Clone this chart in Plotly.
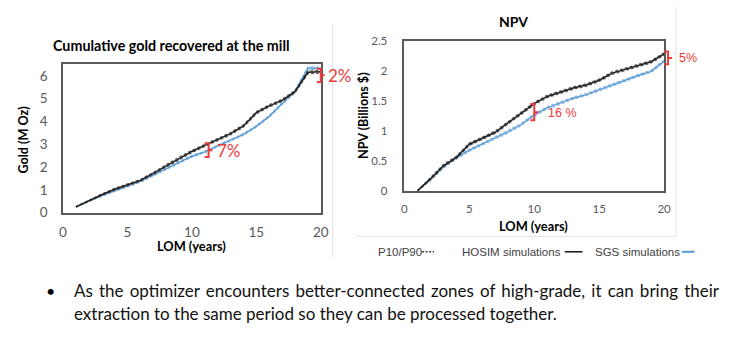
import plotly.graph_objects as go

# ---------------- data ----------------
years = list(range(1, 21))

gold_hosim = [0.25, 0.52, 0.78, 1.02, 1.22, 1.41, 1.72, 2.05, 2.38, 2.68,
              2.95, 3.20, 3.46, 3.80, 4.38, 4.68, 4.92, 5.30, 6.15, 6.18]
gold_hosim_p10 = [0.24, 0.50, 0.75, 0.98, 1.18, 1.37, 1.68, 2.00, 2.33, 2.63,
                  2.90, 3.15, 3.41, 3.75, 4.33, 4.63, 4.87, 5.25, 6.09, 6.12]
gold_hosim_p90 = [0.26, 0.54, 0.81, 1.06, 1.26, 1.45, 1.76, 2.10, 2.43, 2.73,
                  3.00, 3.25, 3.51, 3.85, 4.43, 4.73, 4.97, 5.35, 6.21, 6.24]

gold_sgs = [0.25, 0.50, 0.74, 0.95, 1.16, 1.37, 1.64, 1.93, 2.20, 2.47,
            2.66, 2.92, 3.18, 3.43, 3.78, 4.22, 4.78, 5.32, 6.33, 6.33]
gold_sgs_p10 = [0.24, 0.48, 0.71, 0.92, 1.12, 1.33, 1.60, 1.89, 2.16, 2.43,
                2.62, 2.88, 3.14, 3.39, 3.74, 4.18, 4.73, 5.27, 6.27, 6.27]
gold_sgs_p90 = [0.26, 0.52, 0.77, 0.98, 1.20, 1.41, 1.68, 1.97, 2.24, 2.51,
                2.70, 2.96, 3.22, 3.47, 3.82, 4.26, 4.83, 5.37, 6.39, 6.39]

npv_hosim = [0.00, 0.20, 0.42, 0.56, 0.78, 0.88, 0.98, 1.14, 1.30, 1.46,
             1.58, 1.65, 1.72, 1.77, 1.85, 1.97, 2.03, 2.09, 2.16, 2.29]
npv_hosim_p10 = [0.00, 0.18, 0.40, 0.54, 0.76, 0.86, 0.96, 1.12, 1.28, 1.44,
                 1.56, 1.63, 1.70, 1.75, 1.83, 1.95, 2.01, 2.07, 2.14, 2.27]
npv_hosim_p90 = [0.00, 0.22, 0.44, 0.58, 0.80, 0.90, 1.00, 1.16, 1.32, 1.48,
                 1.60, 1.67, 1.74, 1.79, 1.87, 1.99, 2.05, 2.11, 2.18, 2.31]

npv_sgs = [0.00, 0.19, 0.40, 0.55, 0.68, 0.78, 0.89, 0.99, 1.11, 1.27,
           1.39, 1.47, 1.55, 1.61, 1.69, 1.78, 1.85, 1.93, 2.00, 2.17]
npv_sgs_p10 = [0.00, 0.17, 0.38, 0.53, 0.66, 0.76, 0.87, 0.97, 1.09, 1.25,
               1.37, 1.45, 1.53, 1.59, 1.67, 1.76, 1.83, 1.91, 1.98, 2.15]
npv_sgs_p90 = [0.00, 0.21, 0.42, 0.57, 0.70, 0.80, 0.91, 1.01, 1.13, 1.29,
               1.41, 1.49, 1.57, 1.63, 1.71, 1.80, 1.87, 1.95, 2.02, 2.19]

gold_yticks = [0, 1, 2, 3, 4, 5, 6]
npv_yticks = [0, 0.5, 1, 1.5, 2, 2.5]
npv_yticktext = ["0", "0.5", "1", "1.5", "2", "2.5"]
x_ticks = [0, 5, 10, 15, 20]

# ---------------- styling ----------------
W, H = 740, 342
def px(x):
    return x / W
def py(y):
    return 1 - y / H

BLACK = "#1f1f1f"
BLACK_BAND = "#606060"
BLUE = "#5B9BD5"
BLUE_BAND = "#9DC3E6"
RED = "#EE3B3B"
AXIS = "#595959"
FONT = "Lato"
ARIAL = "Liberation Sans"

fig = go.Figure()

def add(x, y, color, width, dash, xa, ya):
    fig.add_trace(go.Scatter(x=x, y=y, mode="lines",
                             line=dict(color=color, width=width, dash=dash),
                             xaxis=xa, yaxis=ya, showlegend=False,
                             hoverinfo="skip"))

for xa, ya, h, h10, h90, s, s10, s90 in [
    ("x", "y", gold_hosim, gold_hosim_p10, gold_hosim_p90,
     gold_sgs, gold_sgs_p10, gold_sgs_p90),
    ("x2", "y2", npv_hosim, npv_hosim_p10, npv_hosim_p90,
     npv_sgs, npv_sgs_p10, npv_sgs_p90),
]:
    add(years, s10, BLUE_BAND, 1.3, "3px,2px", xa, ya)
    add(years, s90, BLUE_BAND, 1.3, "3px,2px", xa, ya)
    add(years, s, BLUE, 1.4, "solid", xa, ya)
    add(years, h10, BLACK_BAND, 1.3, "3px,2px", xa, ya)
    add(years, h90, BLACK_BAND, 1.3, "3px,2px", xa, ya)
    add(years, h, BLACK, 1.5, "solid", xa, ya)

axis_common = dict(showline=True, mirror=True, linecolor=AXIS, linewidth=1.6,
                   showgrid=False, zeroline=False, ticks="",
                   fixedrange=True)

fig.update_layout(
    width=W, height=H,
    margin=dict(l=0, r=0, t=0, b=0),
    paper_bgcolor="white", plot_bgcolor="white",
    showlegend=False,
    xaxis=dict(domain=[px(60), px(322)], range=[0, 20], anchor="y",
               tickvals=x_ticks, ticklabelstandoff=6,
               tickfont=dict(family=FONT, size=13.5, color=AXIS), **axis_common),
    yaxis=dict(domain=[py(215), py(60)], range=[0, 6.5], anchor="x",
               tickvals=gold_yticks, ticklabelstandoff=11,
               tickfont=dict(family=FONT, size=13.5, color=AXIS), **axis_common),
    xaxis2=dict(domain=[px(407), px(671)], range=[0, 20], anchor="y2",
                tickvals=x_ticks, ticklabelstandoff=7,
                tickfont=dict(family=FONT, size=11.5, color=AXIS), **axis_common),
    yaxis2=dict(domain=[py(192.3), py(36)], range=[0, 2.5], anchor="x2",
                tickvals=npv_yticks, ticktext=npv_yticktext,
                ticklabelstandoff=13,
                tickfont=dict(family=FONT, size=11.5, color=AXIS), **axis_common),
)

ann = []
def text(x, y, t, size, color="#000000", bold=False, family=FONT,
         xanchor="center", angle=0):
    ann.append(dict(x=px(x), y=py(y), xref="paper", yref="paper", text=t,
                    showarrow=False, xanchor=xanchor, yanchor="middle",
                    textangle=angle,
                    font=dict(family=family, size=size, color=color,
                              weight="bold" if bold else "normal")))

# titles
text(170, 40, "Cumulative gold recovered at the mill", 14.3, bold=True)
text(518, 15, "NPV", 14, bold=True)
# axis titles
text(191, 250, "LOM (years)", 12.8, bold=True)
text(20, 139, "Gold (M Oz)", 12.6, bold=True, angle=-90)
text(538, 229, "LOM (years)", 12.8, bold=True)
text(366, 114, "NPV (Billions $)", 12.6, bold=True, angle=-90)
# red labels
text(214, 150, "7%", 17, color=RED, xanchor="left")
text(327, 72, "2%", 17, color=RED, xanchor="left")
text(551, 111, "16 %", 12.5, color=RED, family=ARIAL, xanchor="left")
text(684, 53, "5%", 12.5, color=RED, family=ARIAL, xanchor="left")
# legend texts
text(378, 256, "P10/P90", 11.5, color="#404040", family=ARIAL, xanchor="left")
text(464, 256, "HOSIM simulations", 11.5, color="#404040", family=ARIAL, xanchor="left")
text(599, 256, "SGS simulations", 11.5, color="#404040", family=ARIAL, xanchor="left")
# bottom paragraph
text(47, 297, "•", 16, family=FONT)
text(69, 297, '<span style="word-spacing:1.8px">As the optimizer encounters '
              'better-connected zones of high-grade, it can bring their</span>',
     17, color="#111111", xanchor="left")
text(69, 321, "extraction to the same period so they can be processed together.",
     17, color="#111111", xanchor="left")

shapes = []
def line(x0, y0, x1, y1, color, width, dash="solid"):
    shapes.append(dict(type="line", xref="paper", yref="paper",
                       x0=px(x0), y0=py(y0), x1=px(x1), y1=py(y1),
                       line=dict(color=color, width=width, dash=dash)))

def bracket(x, ytop, ybot):
    ym = (ytop + ybot) / 2
    path = (f"M {px(x-4)} {py(ytop)} L {px(x)} {py(ytop)} L {px(x)} {py(ybot)} "
            f"L {px(x-4)} {py(ybot)} M {px(x)} {py(ym)} L {px(x+4)} {py(ym)}")
    shapes.append(dict(type="path", xref="paper", yref="paper", path=path,
                       line=dict(color=RED, width=2)))

# faint chart-area borders
line(334, 18, 334, 262, "#E3E3E3", 1)
line(683, 0, 683, 240, "#E3E3E3", 1)
line(358, 240, 683, 240, "#E3E3E3", 1)

bracket(208, 142.5, 157)
bracket(322, 64.5, 78.5)
bracket(539, 101.5, 118.5)
bracket(675, 46.5, 60)

# legend samples
line(425, 256, 437, 256, "#404040", 1.3, "2px,1.5px")
line(570, 256, 588, 256, BLACK, 1.6)
line(689, 256, 702, 256, BLUE, 2)

fig.update_layout(annotations=ann, shapes=shapes)
fig.write_html("out.html")
